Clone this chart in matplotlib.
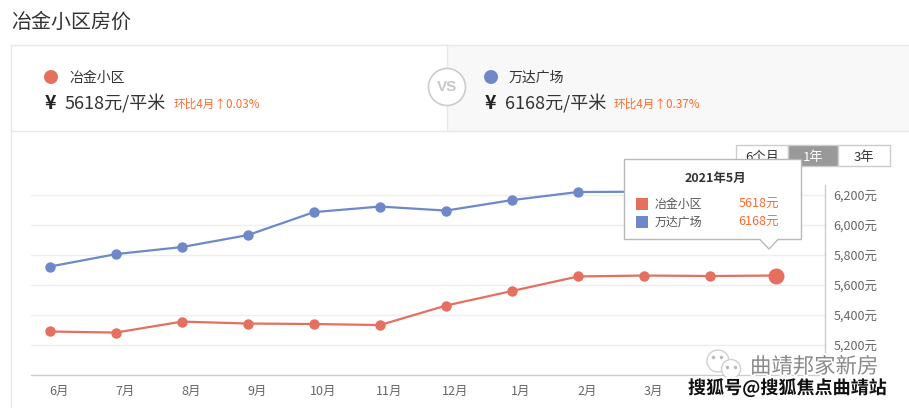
import numpy as np
import matplotlib
matplotlib.use("Agg")
import matplotlib.pyplot as plt
import matplotlib.patheffects as pe
from matplotlib.patches import Rectangle, Circle, Polygon
from matplotlib.transforms import ScaledTranslation

plt.rcParams['font.family'] = ['Noto Sans CJK SC', 'DejaVu Sans']

# datos
meses = ["6月", "7月", "8月", "9月", "10月", "11月", "12月", "1月", "2月", "3月", "4月", "5月"]
yezhi = [5292, 5285, 5358, 5345, 5342, 5335, 5465, 5562, 5659, 5665, 5662, 5665]
wanda = [5725, 5808, 5855, 5935, 6088, 6125, 6098, 6168, 6222, 6224, 6224, 6224]
yticks = [5200, 5400, 5600, 5800, 6000, 6200]

ROJO = "#e5705f"
AZUL = "#6e88c9"
BORDE = "#e8e8e8"
TEXTO = "#333333"
NARANJA = "#ff6a2b"
W, H = 909, 408

fig = plt.figure(figsize=(W / 100, H / 100), dpi=100)

# capa de fondo en pixeles
bg = fig.add_axes([0, 0, 1, 1])
bg.set_xlim(0, W)
bg.set_ylim(H, 0)
bg.axis("off")

bg.add_patch(Rectangle((447, 45), W - 447, 86, fc="#f8f8f8", ec="none"))
bg.plot([11, W], [45, 45], color=BORDE, lw=1)
bg.plot([11, W], [131, 131], color=BORDE, lw=1)
bg.plot([11, 11], [45, H], color=BORDE, lw=1)
bg.plot([447, 447], [45, 131], color=BORDE, lw=1)

bg.text(11, 22.5, "冶金小区房价", fontsize=14.4, color=TEXTO, va="center")

# panel de cada lado
for x0, nombre, precio, cambio, color in [
    (0, "冶金小区", "5618元/平米", "环比4月↑0.03%", ROJO),
    (440, "万达广场", "6168元/平米", "环比4月↑0.37%", AZUL),
]:
    bg.add_patch(Circle((x0 + 51, 77), 7, fc=color, ec="none"))
    bg.text(x0 + 69, 77.5, nombre, fontsize=10, color=TEXTO, va="center")
    bg.text(x0 + 45, 103.5, "¥", fontsize=14, fontweight="bold", color="#222222", va="center")
    bg.text(x0 + 65, 103.5, precio, fontsize=13, color=TEXTO, va="center")
    bg.text(x0 + 174, 104.5, cambio, fontsize=8.4, color=NARANJA, va="center")

bg.add_patch(Circle((447, 87), 18.5, fc="white", ec="#cccccc", lw=1.2, zorder=3))
bg.text(447, 87, "VS", fontsize=11, color="#c8c8c8", ha="center", va="center",
        fontweight="bold", family="Liberation Sans", zorder=4)

# botones de periodo
for x0, ancho, txt, activo in [(736, 52, "6个月", False), (788, 50, "1年", True), (838, 52, "3年", False)]:
    bg.add_patch(Rectangle((x0, 145), ancho, 21, fc="#999999" if activo else "white", ec="#cccccc", lw=1))
    bg.text(x0 + ancho / 2, 157, txt, fontsize=9.5, color="white" if activo else TEXTO,
            ha="center", va="center")

# grafica
ax = fig.add_axes([31 / W, 1 - 375.3 / H, (825 - 31) / W, (375.3 - 185) / H])
ax.patch.set_alpha(0)
x = np.arange(len(meses))
ax.set_xlim(-0.288, 11.742)
ax.set_ylim(5000, 5000 + (375.3 - 185) / 30 * 200)

ax.grid(axis="y", color="#eeeeee", lw=1)
ax.set_axisbelow(True)
for lado in ["top", "left"]:
    ax.spines[lado].set_visible(False)
for lado in ["bottom", "right"]:
    ax.spines[lado].set_color("#cccccc")
    ax.spines[lado].set_linewidth(1)

ax.plot(x, wanda, color=AZUL, lw=1.6, marker="o", ms=7.5, mew=0, clip_on=False, zorder=3)
ax.plot(x, yezhi, color=ROJO, lw=1.6, marker="o", ms=7.5, mew=0, clip_on=False, zorder=3)
ax.plot(x[-1], yezhi[-1], color=ROJO, marker="o", ms=11.5, mew=0, clip_on=False, zorder=4)

ax.yaxis.tick_right()
ax.set_yticks(yticks)
ax.set_yticklabels([f"{v:,}元" for v in yticks], fontsize=9, color="#666666", va="center")
ax.tick_params(axis="y", length=0, pad=6)
# bajar las etiquetas 2 px para que queden como en la imagen
for t in ax.get_yticklabels():
    t.set_transform(t.get_transform() + ScaledTranslation(0, -2 / 100, fig.dpi_scale_trans))
# 4月 y 5月 quedan tapados por la marca de agua
ax.set_xticks(x[:10] + 9 / 66)
ax.set_xticklabels(meses[:10], fontsize=9, color="#666666")
ax.tick_params(axis="x", length=0, pad=7)

# tooltip y marca de agua, encima de todo
top = fig.add_axes([0, 0, 1, 1])
top.set_xlim(0, W)
top.set_ylim(H, 0)
top.axis("off")
top.patch.set_alpha(0)

top.add_patch(Polygon([(624.5, 159.5), (801.5, 159.5), (801.5, 239.5), (778, 239.5), (769, 249),
                       (760, 239.5), (624.5, 239.5)], closed=True, fc="white", ec="#b8b8b8", lw=1))
top.text(715, 178, "2021年5月", fontsize=9, fontweight="bold", color=TEXTO, ha="center", va="center")
for y0, nombre, valor, color in [(203.5, "冶金小区", "5618元", ROJO), (222, "万达广场", "6168元", AZUL)]:
    top.add_patch(Rectangle((636, y0 - 6), 12, 12, fc=color, ec="none"))
    top.text(655, y0 + 0.5, nombre, fontsize=8.6, color="#555555", va="center")
    top.text(779, y0 + 0.5, valor, fontsize=9, color=NARANJA, ha="right", va="center")

halo = [pe.withStroke(linewidth=2.5, foreground="white")]
top.add_patch(Circle((718, 361), 11, fc="white", ec="#d0d0d0", lw=1))
top.add_patch(Circle((731, 369), 9.5, fc="white", ec="#d0d0d0", lw=1))
top.plot([713, 721, 727, 735], [357, 357, 367, 367], ls="none", marker="o", ms=1.5, color="#bbbbbb")
top.text(750, 367, "曲靖邦家新房", fontsize=15.4, color="#8a8a8a", va="center", path_effects=halo)
top.text(688, 388.5, "搜狐号@搜狐焦点曲靖站", fontsize=13, color="#111111", va="center",
         fontweight="bold", path_effects=[pe.withStroke(linewidth=3, foreground="white")])

fig.savefig("out.png", dpi=100)
